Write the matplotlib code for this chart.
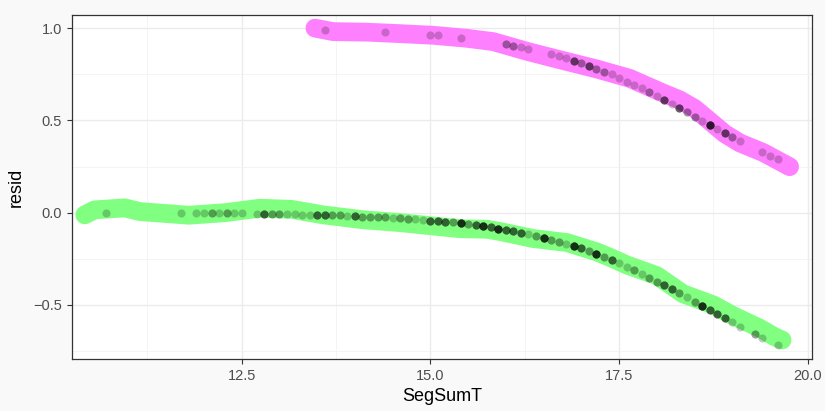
import matplotlib
matplotlib.use("Agg")
import matplotlib.pyplot as plt
import numpy as np

plt.rcParams['font.family'] = ['Liberation Sans', 'DejaVu Sans']

# points: SegSumT vs resid, count = how many points stack on the same spot
green_x = [10.7, 11.7, 11.9, 12.0, 12.1, 12.2, 12.3, 12.4, 12.5, 12.7, 12.8, 12.9, 13.0,
           13.1, 13.2, 13.3, 13.4, 13.5, 13.6, 13.7, 13.8, 13.9, 14.0, 14.1, 14.2, 14.3,
           14.4, 14.5, 14.6, 14.7, 14.8, 14.9, 15.0, 15.1, 15.2, 15.3, 15.4, 15.5, 15.6,
           15.7, 15.8, 15.9, 16.0, 16.1, 16.2, 16.3, 16.4, 16.5, 16.6, 16.7, 16.8, 16.9,
           17.0, 17.1, 17.2, 17.3, 17.4, 17.5, 17.6, 17.7, 17.8, 17.9, 18.0, 18.1, 18.2,
           18.3, 18.4, 18.5, 18.6, 18.7, 18.8, 18.9, 19.0, 19.1, 19.3, 19.4, 19.6]
green_y = [0.0, 0.0, 0.0, 0.0, 0.0, -0.002, -0.003, -0.003, -0.004, -0.005, -0.005, -0.006,
           -0.007, -0.008, -0.009, -0.011, -0.012, -0.013, -0.013, -0.014, -0.014, -0.016,
           -0.017, -0.022, -0.023, -0.025, -0.026, -0.030, -0.031, -0.034, -0.037, -0.039,
           -0.043, -0.046, -0.048, -0.052, -0.057, -0.062, -0.067, -0.072, -0.079, -0.087,
           -0.095, -0.101, -0.108, -0.116, -0.125, -0.135, -0.146, -0.157, -0.169, -0.180,
           -0.193, -0.209, -0.224, -0.242, -0.258, -0.274, -0.293, -0.311, -0.331, -0.353,
           -0.374, -0.394, -0.415, -0.437, -0.459, -0.482, -0.506, -0.527, -0.549, -0.572,
           -0.594, -0.618, -0.658, -0.679, -0.718]
green_n = [1, 1, 1, 1, 2, 1, 2, 1, 1, 1, 4, 2, 2,
           1, 1, 1, 1, 4, 4, 2, 2, 1, 4, 2, 2, 2,
           2, 1, 2, 2, 1, 1, 4, 4, 4, 2, 7, 2, 4,
           7, 4, 7, 4, 4, 4, 1, 2, 7, 2, 2, 1, 7,
           4, 2, 7, 2, 4, 1, 1, 2, 1, 2, 2, 4, 4,
           2, 1, 2, 7, 4, 4, 4, 1, 1, 2, 1, 1]

pink_x = [13.6, 14.4, 15.0, 15.1, 15.4, 16.0, 16.1, 16.2, 16.3, 16.6, 16.7, 16.8, 16.9,
          17.0, 17.1, 17.2, 17.3, 17.4, 17.5, 17.6, 17.7, 17.8, 17.9, 18.0, 18.1, 18.2,
          18.3, 18.4, 18.5, 18.6, 18.7, 18.8, 18.9, 19.0, 19.1, 19.4, 19.5, 19.6]
pink_y = [0.990, 0.979, 0.963, 0.960, 0.947, 0.913, 0.905, 0.896, 0.889, 0.860, 0.849,
          0.837, 0.822, 0.809, 0.795, 0.778, 0.763, 0.750, 0.730, 0.710, 0.692, 0.674,
          0.653, 0.632, 0.611, 0.590, 0.566, 0.546, 0.520, 0.499, 0.475, 0.455, 0.432,
          0.409, 0.389, 0.327, 0.307, 0.289]
pink_n = [1, 1, 1, 1, 1, 2, 2, 1, 1, 1, 1, 1, 4,
          2, 4, 2, 2, 1, 1, 1, 1, 1, 2, 1, 4, 1,
          4, 2, 2, 1, 7, 1, 4, 2, 1, 1, 1, 1]

# thick smoothed bands drawn under the points
green_line_x = [10.42, 10.55, 10.95, 11.15, 11.80, 12.28, 12.74, 13.16, 13.58, 14.10,
                14.60, 15.39, 15.75, 15.92, 16.36, 16.81, 17.20, 17.38, 17.60, 18.00,
                18.35, 18.75, 19.01, 19.37, 19.55, 19.66]
green_line_y = [-0.012, 0.015, 0.026, 0.006, -0.014, 0.0, 0.024, 0.018, -0.012, -0.038,
                -0.054, -0.087, -0.090, -0.102, -0.140, -0.162, -0.212, -0.242, -0.283,
                -0.341, -0.440, -0.500, -0.558, -0.627, -0.670, -0.690]
pink_line_x = [13.47, 13.71, 14.16, 14.60, 15.04, 15.48, 15.83, 16.30, 16.76, 17.20,
               17.64, 18.09, 18.30, 18.50, 18.70, 18.90, 19.10, 19.41, 19.76]
pink_line_y = [1.0, 0.981, 0.978, 0.970, 0.961, 0.945, 0.927, 0.872, 0.824, 0.779,
               0.728, 0.647, 0.612, 0.565, 0.497, 0.428, 0.378, 0.326, 0.249]

fig = plt.figure(figsize=(8.25, 4.11), dpi=100)
fig.patch.set_facecolor('#f9f9f9')
ax = fig.add_axes([0.0869, 0.1265, 0.897, 0.837])
ax.set_facecolor('white')

ax.plot(green_line_x, green_line_y, color='#80ff80', lw=13.5,
        solid_capstyle='round', solid_joinstyle='round', zorder=2)
ax.plot(pink_line_x, pink_line_y, color='#ff80ff', lw=13.5,
        solid_capstyle='round', solid_joinstyle='round', zorder=2)

px = np.repeat(green_x + pink_x, green_n + pink_n)
py = np.repeat(green_y + pink_y, green_n + pink_n)
ax.scatter(px, py, s=34, color='black', alpha=0.21, linewidths=0, zorder=3)

ax.set_xlim(10.247, 20.053)
ax.set_ylim(-0.793, 1.071)
ax.set_xticks([12.5, 15.0, 17.5, 20.0])
ax.set_xticklabels(['12.5', '15.0', '17.5', '20.0'])
ax.set_xticks([11.25, 13.75, 16.25, 18.75], minor=True)
ax.set_yticks([-0.5, 0.0, 0.5, 1.0])
ax.set_yticklabels(['\u22120.5', '0.0', '0.5', '1.0'])
ax.set_yticks([-0.75, -0.25, 0.25, 0.75], minor=True)

ax.grid(which='major', color='#ebebeb', lw=1.0, zorder=0)
ax.grid(which='minor', color='#f2f2f2', lw=0.6, zorder=0)
ax.set_axisbelow(True)
ax.tick_params(which='major', length=3.5, width=0.8, color='#333333',
               labelsize=10.5, labelcolor='#4d4d4d')
ax.tick_params(which='minor', length=0)
for s in ax.spines.values():
    s.set_color('#333333')
    s.set_linewidth(0.9)

ax.set_xlabel('SegSumT', fontsize=13, labelpad=4)
ax.set_ylabel('resid', fontsize=13, labelpad=6)

fig.savefig('out.png', dpi=100, facecolor=fig.get_facecolor())
